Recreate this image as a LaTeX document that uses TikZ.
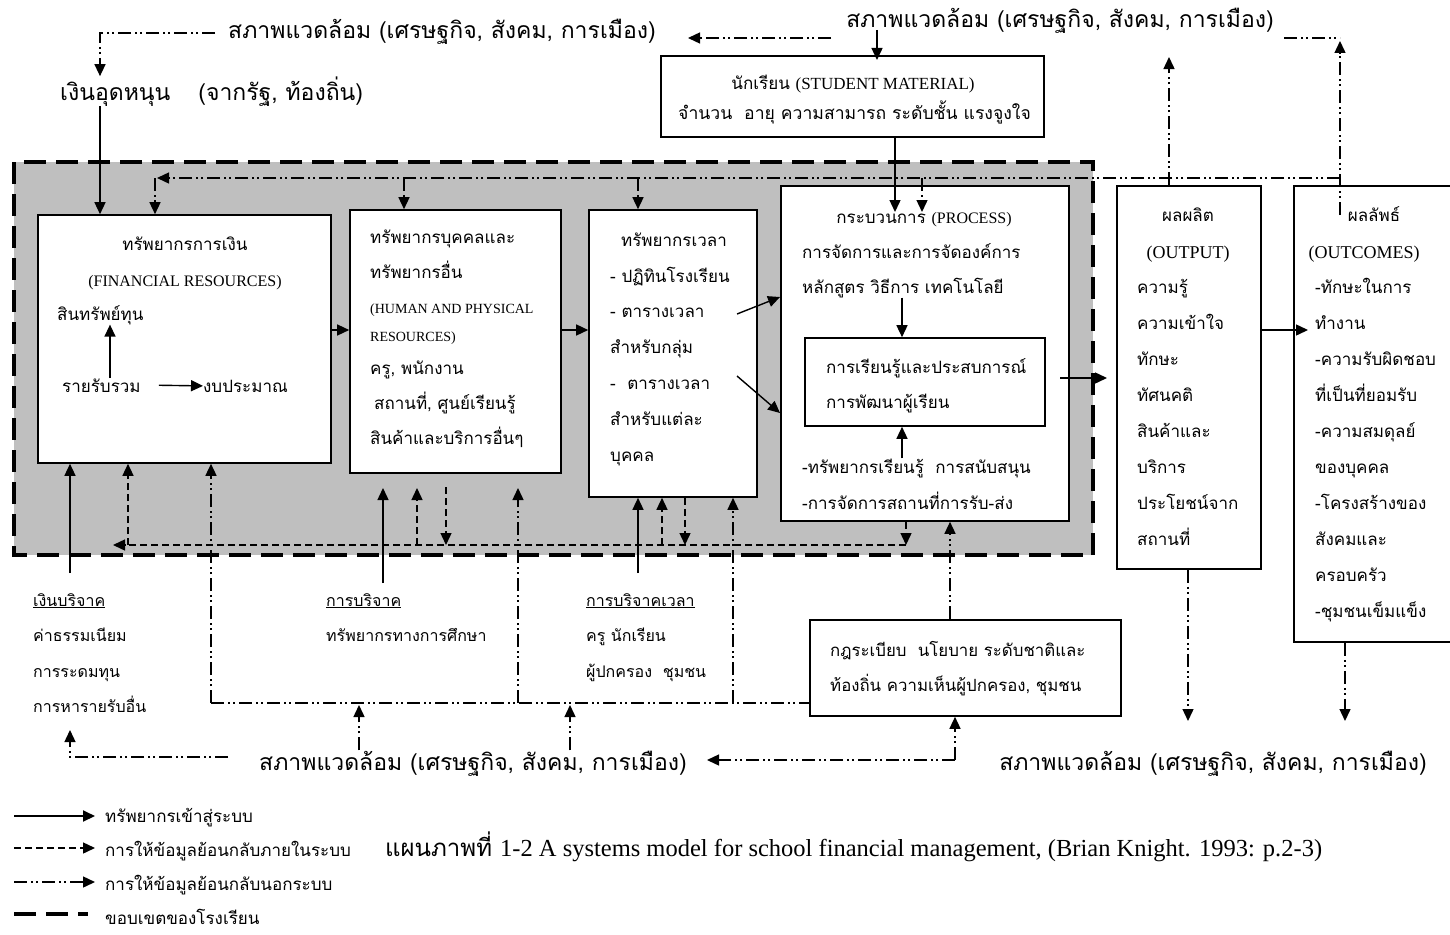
\documentclass[tikz,border=0pt]{standalone}
\usepackage{fontspec}
\setmainfont[Script=Thai]{Loma}
\newfontfamily\lat{Liberation Serif}
\usetikzlibrary{arrows.meta}

\begin{document}
\begin{tikzpicture}[x=1pt,y=-1pt,
    arr/.style={-{Triangle[length=12pt,width=11pt]}},
    res/.style={arr,line width=1.4pt},
    fbin/.style={arr,line width=1.4pt,dash pattern=on 7pt off 4pt},
    dd/.style={line width=1.4pt,dash pattern=on 13pt off 4pt on 2pt off 3pt on 2pt off 4pt},
    fbout/.style={dd,arr},
    bound/.style={line width=4pt,dash pattern=on 22pt off 10pt},
    box/.style={draw,line width=1.6pt,fill=white,inner sep=0pt},
    txt/.style={inner sep=0pt,align=left,font=\fontsize{17}{36}\selectfont},
    mid/.style={inner sep=0pt,align=left,font=\fontsize{16}{35.5}\selectfont},
    big/.style={inner sep=0pt,font=\fontsize{23}{26}\selectfont},
    eng/.style={inner sep=0pt,font=\lat\fontsize{16}{36}\selectfont}]

    \useasboundingbox (0,0) rectangle (1450,934);

    % school boundary
    \draw[bound,fill=gray!50] (14,162) rectangle (1093,555);

    \node[box,minimum width=293pt,minimum height=248pt] (fin) at (184.5,339) {};
    \node[box,minimum width=211pt,minimum height=263pt] (hr) at (455.5,341.5) {};
    \node[box,minimum width=168pt,minimum height=287pt] (time) at (673,353.5) {};
    \node[box,minimum width=288pt,minimum height=335pt] (proc) at (925,353.5) {};
    \node[box,minimum width=240pt,minimum height=88pt] (learn) at (925,382) {};
    \node[box,minimum width=383pt,minimum height=81pt] (stud) at (852.5,96.5) {};
    \node[box,minimum width=144pt,minimum height=383pt] (out) at (1189,377.5) {};
    \node[box,minimum width=176pt,minimum height=456pt] (outc) at (1382,414) {};
    \node[box,minimum width=311pt,minimum height=96pt] (law) at (965.5,668) {};

    % texts
    \node[big,anchor=base] (envTL) at (442,39) {สภาพแวดล้อม (เศรษฐกิจ, สังคม, การเมือง)};
    \node[big,anchor=base west] (subsidy) at (60,100) {เงินอุดหนุน\hspace{28pt}(จากรัฐ, ท้องถิ่น)};
    \node[big,anchor=base] (envTR) at (1060,28) {สภาพแวดล้อม (เศรษฐกิจ, สังคม, การเมือง)};
    \node[big,anchor=base] (envB) at (473,770) {สภาพแวดล้อม (เศรษฐกิจ, สังคม, การเมือง)};
    \node[big,anchor=base] (envBR) at (1213,770) {สภาพแวดล้อม (เศรษฐกิจ, สังคม, การเมือง)};

    \node[mid,anchor=base,font=\fontsize{17}{30}\selectfont] (studT) at (853,89) {นักเรียน {\lat\fontsize{17}{30}\selectfont(STUDENT MATERIAL)}};
    \node[mid,anchor=base west,font=\fontsize{17.6}{30}\selectfont] (studL) at (678,119) {จำนวน\ \ อายุ ความสามารถ ระดับชั้น แรงจูงใจ};

    \node[txt,anchor=base,align=center] (finT) at (185,286) {ทรัพยากรการเงิน\\{\lat\fontsize{16}{36}\selectfont(FINANCIAL RESOURCES)}};
    \node[txt,anchor=base west] (finA) at (57,320) {สินทรัพย์ทุน};
    \node[txt,anchor=base west] (finB) at (62,392) {รายรับรวม};
    \node[txt,anchor=base west] (finC) at (203,392) {งบประมาณ};

    \node[txt,anchor=base west,font=\fontsize{17}{35}\selectfont] (hrA) at (370,278) {ทรัพยากรบุคคลและ\\ทรัพยากรอื่น};
    \node[eng,anchor=base west,align=left,font=\lat\fontsize{14}{28}\selectfont] (hrB) at (370,341) {(HUMAN AND PHYSICAL\\RESOURCES)};
    \node[txt,anchor=base west,font=\fontsize{17}{35}\selectfont] (hrC) at (370,444) {ครู, พนักงาน\\\hspace{4pt}สถานที่, ศูนย์เรียนรู้\\สินค้าและบริการอื่นๆ};

    \node[txt,anchor=base] (timeT) at (674,246) {ทรัพยากรเวลา};
    \node[txt,anchor=base west,font=\fontsize{17}{35.8}\selectfont] (timeL) at (610,461) {- ปฏิทินโรงเรียน\\- ตารางเวลา\\สำหรับกลุ่ม\\-\ \ ตารางเวลา\\สำหรับแต่ละ\\บุคคล};

    \node[txt,anchor=base] (procT) at (924,223) {กระบวนการ {\lat\fontsize{16}{36}\selectfont(PROCESS)}};
    \node[txt,anchor=base west,font=\fontsize{17}{35}\selectfont] (procA) at (802,293) {การจัดการและการจัดองค์การ\\หลักสูตร วิธีการ เทคโนโลยี};
    \node[txt,anchor=base west,font=\fontsize{17}{35}\selectfont] (learnT) at (826,408) {การเรียนรู้และประสบการณ์\\การพัฒนาผู้เรียน};
    \node[txt,anchor=base west,font=\fontsize{17}{36}\selectfont] (procB) at (802,509) {-ทรัพยากรเรียนรู้\ \ การสนับสนุน\\-การจัดการสถานที่การรับ-ส่ง};

    \node[txt,anchor=base] (outT) at (1188,221) {ผลผลิต};
    \node[eng,anchor=base,font=\lat\fontsize{18}{36}\selectfont] (outE) at (1188,258) {(OUTPUT)};
    \node[txt,anchor=base west] (outL) at (1137,545) {ความรู้\\ความเข้าใจ\\ทักษะ\\ทัศนคติ\\สินค้าและ\\บริการ\\ประโยชน์จาก\\สถานที่};

    \node[txt,anchor=base] (outcT) at (1374,221) {ผลลัพธ์};
    \node[eng,anchor=base,font=\lat\fontsize{18}{36}\selectfont] (outcE) at (1364,258) {(OUTCOMES)};
    \node[txt,anchor=base west] (outcL) at (1315,617) {-ทักษะในการ\\ทำงาน\\-ความรับผิดชอบ\\ที่เป็นที่ยอมรับ\\-ความสมดุลย์\\ของบุคคล\\-โครงสร้างของ\\สังคมและ\\ครอบครัว\\-ชุมชนเข็มแข็ง};

    \node[mid,anchor=base west,font=\fontsize{16.8}{35}\selectfont] (lawL) at (830,691) {กฎระเบียบ\ \ นโยบาย ระดับชาติและ\\ท้องถิ่น ความเห็นผู้ปกครอง, ชุมชน};

    \node[mid,anchor=base west] (don1) at (33,712.5) {\underline{เงินบริจาค}\\ค่าธรรมเนียม\\การระดมทุน\\การหารายรับอื่น};
    \node[mid,anchor=base west] (don2) at (326,641.5) {\underline{การบริจาค}\\ทรัพยากรทางการศึกษา};
    \node[mid,anchor=base west] (don3) at (586,677) {\underline{การบริจาคเวลา}\\ครู นักเรียน\\ผู้ปกครอง\ \ ชุมชน};

    % top, outside the school
    \coordinate (tlA) at (215,33);
    \coordinate (tlB) at (100,33);
    \draw[fbout] (tlA) -- (tlB) -- (tlB |- subsidy.north);
    \draw[res] (tlB |- subsidy.south) -- (tlB |- fin.north);
    \coordinate (trA) at (831,38);
    \coordinate (trB) at (688,38);
    \draw[fbout] (trA) -- (trB);
    \coordinate (stIn) at (877,30);
    \coordinate (stTip) at (877,60);
    \draw[res] (stIn) -- (stTip);
    \coordinate (studTip) at (895,212);
    \draw[res] (studTip |- stud.south) -- (studTip);

    % feedback along the top
    \coordinate (fbR) at (1340,178);
    \coordinate (fbL) at (157,178);
    \draw[fbout] (fbR) -- (fbL);
    \coordinate (fbFin) at (155,178);
    \draw[fbout] (fbFin) -- (fbFin |- fin.north);
    \coordinate (fbHr) at (404,178);
    \draw[fbout] (fbHr) -- (fbHr |- hr.north);
    \coordinate (fbTime) at (638,178);
    \draw[fbout] (fbTime) -- (fbTime |- time.north);
    \coordinate (fbProc) at (922,178);
    \coordinate (procTip) at (922,212);
    \draw[fbout] (fbProc) -- (procTip);
    \coordinate (outUp) at (1169,57);
    \draw[fbout] (outUp |- out.north) -- (outUp);
    \coordinate (outcIn) at (1340,215);
    \coordinate (outcUp) at (1340,41);
    \draw[fbout] (outcIn) -- (outcUp);
    \coordinate (outcC) at (1284,38);
    \draw[dd] (outcC) -- (outcC -| outcUp);

    % flow through the school
    \coordinate (rowA) at (0,330);
    \draw[res] (fin.east |- rowA) -- (hr.west |- rowA);
    \draw[res] (hr.east |- rowA) -- (time.west |- rowA);
    \coordinate (tpA1) at (737,314);
    \coordinate (tpA2) at (780,297);
    \coordinate (tpB1) at (737,376);
    \coordinate (tpB2) at (780,413);
    \draw[res] (tpA1) -- (tpA2);
    \draw[res] (tpB1) -- (tpB2);
    \coordinate (finX) at (110,0);
    \draw[res] (finX |- finB.north) -- (finX |- finA.south);
    \draw[res] ([xshift=18pt]finB.east) -- (finC.west);
    \coordinate (procX) at (902,0);
    \draw[res] (procX |- procA.south) -- (procX |- learn.north);
    \draw[res] (procX |- procB.north) -- (procX |- learn.south);
    \coordinate (poA) at (1060,378);
    \coordinate (poB) at (1107,378);
    \draw[res] (poA) -- (poB);
    \coordinate (ooB) at (1308,330);
    \draw[res] (out.east |- rowA) -- (ooB);

    % inputs from below
    \coordinate (donFin) at (70,573);
    \draw[res] (donFin) -- (donFin |- fin.south);
    \coordinate (donHr) at (383,583);
    \coordinate (hrTip) at (383,488);
    \draw[res] (donHr) -- (hrTip);
    \coordinate (donTime) at (638,573);
    \draw[res] (donTime) -- (donTime |- time.south);

    % feedback inside the school
    \coordinate (fbiR) at (906,545);
    \coordinate (fbiL) at (113,545);
    \draw[fbin] (fbiR) -- (fbiL);
    \coordinate (fbiFin) at (128,545);
    \draw[fbin] (fbiFin) -- (fbiFin |- fin.south);
    \coordinate (fbiHrUp) at (417,545);
    \draw[fbin] (fbiHrUp) -- (fbiHrUp |- hrTip);
    \coordinate (fbiHrDn) at (446,487);
    \draw[fbin] (fbiHrDn) -- (fbiHrDn |- fbiR);
    \coordinate (fbiTUp) at (662,545);
    \draw[fbin] (fbiTUp) -- (fbiTUp |- time.south);
    \coordinate (fbiTDn) at (685,545);
    \draw[fbin] (fbiTDn |- time.south) -- (fbiTDn);
    \draw[fbin] (fbiR |- proc.south) -- (fbiR);

    % feedback outside, below
    \coordinate (ebL) at (211,703);
    \draw[dd] (ebL) -- (law.west |- ebL);
    \draw[fbout] (ebL) -- (ebL |- fin.south);
    \coordinate (ebHr) at (518,703);
    \draw[fbout] (ebHr) -- (ebHr |- hrTip);
    \coordinate (ebT) at (733,703);
    \draw[fbout] (ebT) -- (ebT |- time.south);
    \coordinate (lawUp) at (950,0);
    \draw[fbout] (lawUp |- law.north) -- (lawUp |- proc.south);
    \coordinate (envUp1) at (359,705);
    \draw[fbout] (envUp1 |- envB.north) -- (envUp1);
    \coordinate (envUp2) at (570,705);
    \draw[fbout] (envUp2 |- envB.north) -- (envUp2);
    \coordinate (blA) at (228,757);
    \coordinate (blB) at (70,757);
    \coordinate (blTip) at (70,730);
    \draw[fbout] (blA) -- (blB) -- (blTip);
    \coordinate (brC) at (955,760);
    \coordinate (brL) at (707,760);
    \draw[fbout] (brC) -- (brC |- law.south);
    \draw[fbout] (brC) -- (brL);
    \coordinate (outDn) at (1188,721);
    \draw[fbout] (outDn |- out.south) -- (outDn);
    \coordinate (outcDn) at (1345,721);
    \draw[fbout] (outcDn |- outc.south) -- (outcDn);

    % legend and caption
    \node[mid,anchor=base west,font=\fontsize{17}{20}\selectfont] (lg1) at (105,822) {ทรัพยากรเข้าสู่ระบบ};
    \node[mid,anchor=base west,font=\fontsize{17}{20}\selectfont] (lg2) at (105,856) {การให้ข้อมูลย้อนกลับภายในระบบ};
    \node[mid,anchor=base west,font=\fontsize{17}{20}\selectfont] (lg3) at (105,890) {การให้ข้อมูลย้อนกลับนอกระบบ};
    \node[mid,anchor=base west,font=\fontsize{17}{20}\selectfont] (lg4) at (105,924) {ขอบเขตของโรงเรียน};
    \coordinate (lgS1) at (14,816);
    \coordinate (lgS2) at (14,848);
    \coordinate (lgS3) at (14,882);
    \coordinate (lgS4) at (14,914);
    \draw[res,line width=2pt] (lgS1) -- (95,816);
    \draw[fbin] (lgS2) -- (95,848);
    \draw[fbout] (lgS3) -- (95,882);
    \draw[bound] (lgS4) -- (88,914);

    \node[anchor=base west,inner sep=0pt,font=\fontsize{24}{26}\selectfont] (cap) at (385,856) {แผนภาพที่ {\lat\fontsize{24.5}{26}\selectfont 1-2 A systems model for school financial management, (Brian Knight. 1993: p.2-3)}};

\end{tikzpicture}
\end{document}
